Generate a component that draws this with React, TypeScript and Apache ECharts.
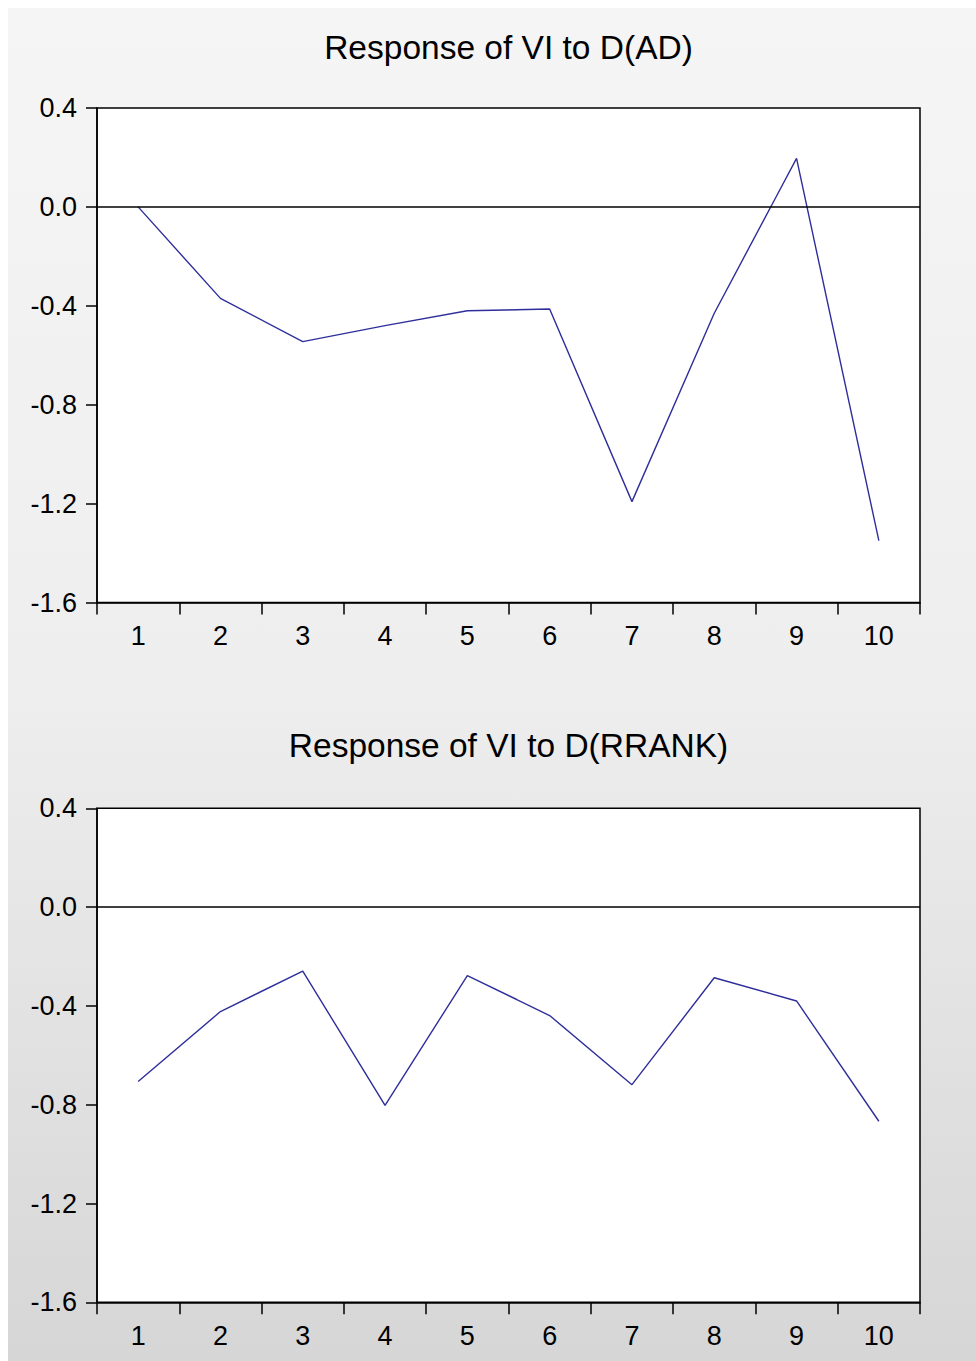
import React, { useEffect, useRef } from "react";
import * as echarts from "echarts";

const periods = ["1", "2", "3", "4", "5", "6", "7", "8", "9", "10"];
const titleTop = "Response of VI to D(AD)";
const titleBottom = "Response of VI to D(RRANK)";
const responseAD = [0.0, -0.37, -0.545, -0.48, -0.42, -0.413, -1.192, -0.43, 0.196, -1.35];
const responseRRANK = [-0.706, -0.423, -0.259, -0.803, -0.277, -0.439, -0.719, -0.286, -0.38, -0.867];
const yMin = -1.6;
const yMax = 0.4;
const yStep = 0.4;

const FONT = "'Liberation Sans', Arial, sans-serif";

export default function App() {
  const ref = useRef<HTMLDivElement>(null);

  useEffect(() => {
    if (!ref.current) return;
    const chart = echarts.init(ref.current, null, { renderer: "svg" });

    const grids = [
      { left: 89, right: 56, top: 100, height: 494.5 },
      { left: 89, right: 56, top: 800.3, height: 494 },
    ].map((g) => ({
      ...g,
      show: true,
      backgroundColor: "#ffffff",
      borderColor: "#000000",
      borderWidth: 1.5,
    }));

    const xAxes = [0, 1].map((i) => ({
      type: "category",
      gridIndex: i,
      data: periods,
      boundaryGap: true,
      axisLine: { show: true, onZero: false, lineStyle: { color: "#000", width: 1.5 } },
      axisTick: { show: true, interval: 0, length: 12, lineStyle: { color: "#000", width: 1.5 } },
      axisLabel: {
        interval: 0,
        margin: 20,
        color: "#000",
        fontSize: 27,
        fontFamily: FONT,
      },
      splitLine: { show: false },
    }));

    const yAxes = [0, 1].map((i) => ({
      type: "value",
      gridIndex: i,
      min: yMin,
      max: yMax,
      interval: yStep,
      axisLine: { show: true, onZero: false, lineStyle: { color: "#000", width: 1.5 } },
      axisTick: { show: true, length: 11, lineStyle: { color: "#000", width: 1.5 } },
      axisLabel: {
        margin: 20,
        color: "#000",
        fontSize: 27,
        fontFamily: FONT,
        formatter: (v: number) => v.toFixed(1),
      },
      splitLine: { show: false },
    }));

    const mkSeries = (data: number[], idx: number) => ({
      type: "line",
      xAxisIndex: idx,
      yAxisIndex: idx,
      data,
      symbol: "none",
      lineStyle: { color: "#2e2e9c", width: 1.4 },
      markLine: {
        silent: true,
        symbol: ["none", "none"],
        label: { show: false },
        lineStyle: { color: "#000", width: 1.5, type: "solid" },
        data: [{ yAxis: 0 }],
      },
    });

    chart.setOption({
      animation: false,
      backgroundColor: {
        type: "linear",
        x: 0,
        y: 0,
        x2: 0,
        y2: 1,
        colorStops: [
          { offset: 0, color: "#f5f5f5" },
          { offset: 0.5, color: "#eeeeee" },
          { offset: 1, color: "#d6d6d6" },
        ],
      },
      title: [
        {
          text: titleTop,
          left: 500.5,
          top: 22,
          textAlign: "center",
          padding: 0,
          textStyle: { color: "#000", fontSize: 33.5, fontWeight: "normal", fontFamily: FONT },
        },
        {
          text: titleBottom,
          left: 500.5,
          top: 720.4,
          textAlign: "center",
          padding: 0,
          textStyle: { color: "#000", fontSize: 33.5, fontWeight: "normal", fontFamily: FONT },
        },
      ],
      grid: grids,
      xAxis: xAxes,
      yAxis: yAxes,
      series: [mkSeries(responseAD, 0), mkSeries(responseRRANK, 1)],
    });

    return () => chart.dispose();
  }, []);

  return (
    <div
      ref={ref}
      style={{ position: "fixed", left: 8, top: 8, width: 968, height: 1353 }}
    />
  );
}
